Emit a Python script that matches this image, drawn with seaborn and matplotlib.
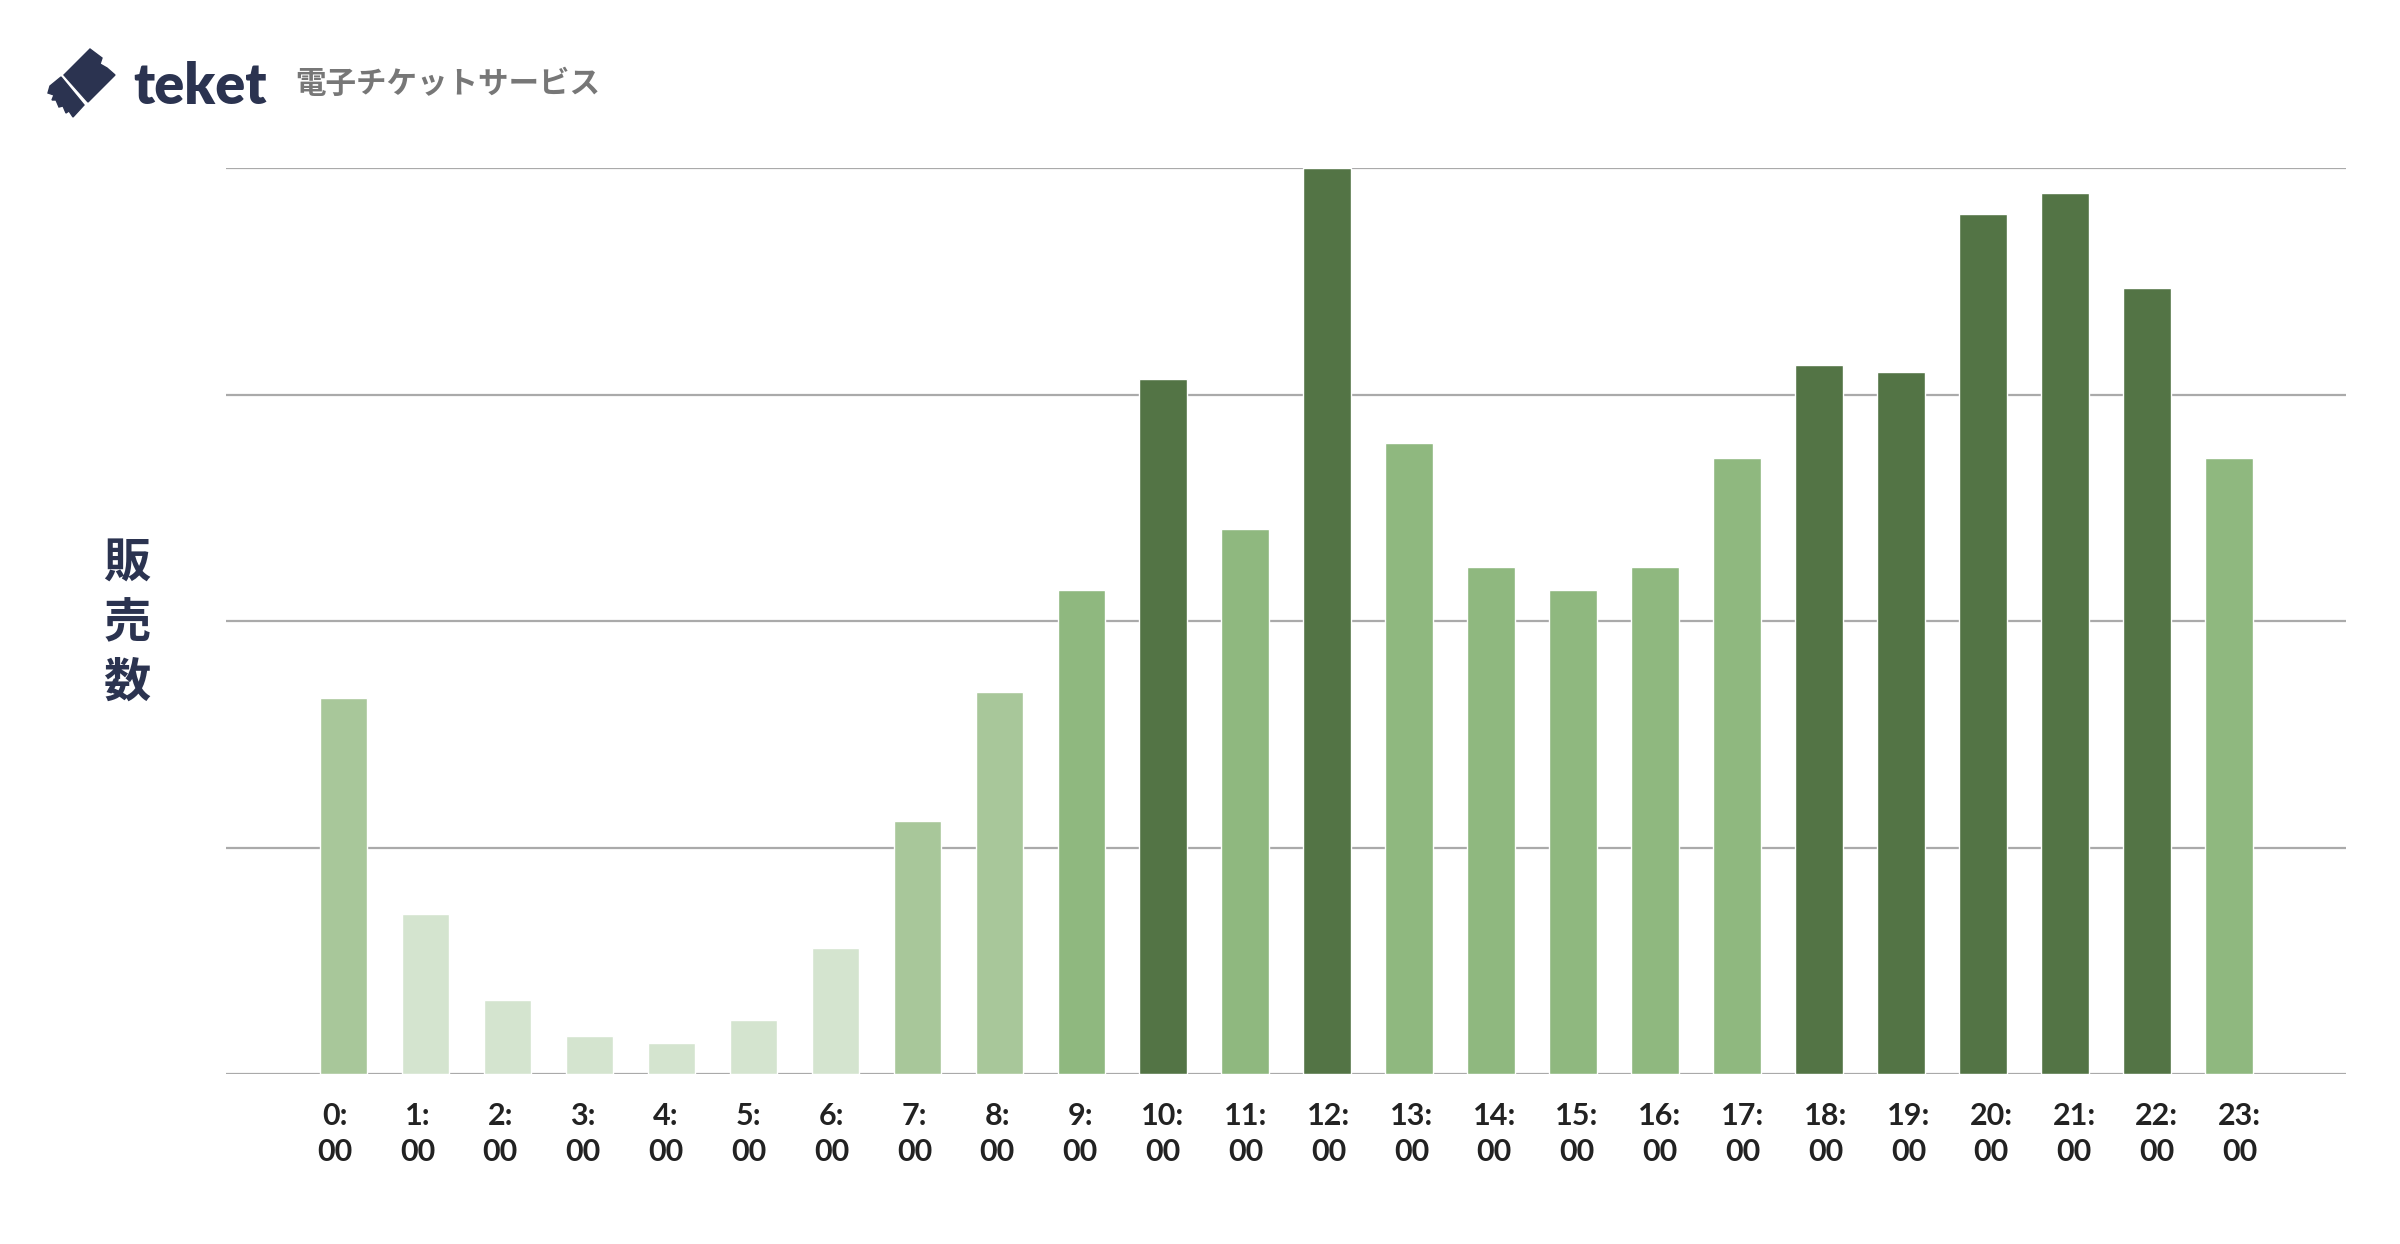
import matplotlib
matplotlib.use("Agg")
import matplotlib.pyplot as plt
import seaborn as sns
from matplotlib.patches import Polygon

# data (relative sales per hour, max = 400)
hours = [f"{h}:\n00" for h in range(24)]
sales = [166, 71, 33, 17, 14, 24, 56, 112, 169, 214, 307, 241,
         400, 279, 224, 214, 224, 272, 313, 310, 380, 389, 347, 272]
shade = [1, 0, 0, 0, 0, 0, 0, 1, 1, 2, 3, 2,
         3, 2, 2, 2, 2, 2, 3, 3, 3, 3, 3, 2]
shade_colors = ["#d4e4cf", "#a8c79a", "#8fb87f", "#537445"]
yticks = [0, 100, 200, 300, 400]

NAVY = "#2b3350"

sns.set_theme(style="white")
plt.rcParams["font.family"] = ["Lato", "Noto Sans CJK JP", "DejaVu Sans"]

fig = plt.figure(figsize=(24, 12.44), dpi=100)
ax = fig.add_axes([0.094, 0.1363, 0.8835, 0.7283])

bar_colors = [shade_colors[s] for s in shade]
sns.barplot(x=hours, y=sales, hue=hours, palette=bar_colors, legend=False,
            width=0.58, saturation=1, ax=ax, zorder=3)

ax.set_xlim(-1.44, 24.43)
ax.set_ylim(0, 400)
ax.set_yticks(yticks)
ax.set_yticklabels([])
ax.yaxis.grid(True, color="#aaaaaa", linewidth=1.6)
ax.set_axisbelow(True)
for s in ax.spines.values():
    s.set_visible(False)

# category labels sit on a slightly wider grid than the bars
ax.set_xticks([-0.11 + i * 1.0106 for i in range(len(hours))])
ax.set_xticklabels(hours)
ax.tick_params(axis="x", length=0, pad=20)
ax.tick_params(axis="y", length=0)
for lab in ax.get_xticklabels():
    lab.set_fontsize(22)
    lab.set_fontweight("bold")
    lab.set_color("#222222")
    lab.set_linespacing(1.35)
ax.set_xlabel("")
ax.set_ylabel("")

# y label, stacked characters
fig.text(127 / 2400, 1 - 623 / 1244, "販\n売\n数", ha="center", va="center",
         fontsize=34, fontweight="bold", color=NAVY, linespacing=1.3,
         family=["Noto Sans CJK JP", "DejaVu Sans"])

# header: logo + service name
logo = fig.add_axes([0, 0, 1, 1], zorder=-1)
logo.set_xlim(0, 2400)
logo.set_ylim(1244, 0)
logo.axis("off")
logo.add_patch(Polygon([(64, 75), (90, 49), (102, 58), (100, 64), (107, 68),
                        (115, 75), (88, 102)], closed=True, color=NAVY))
logo.add_patch(Polygon([(50, 86), (61, 77), (84, 105), (73, 117), (69, 111),
                        (66, 113), (63, 106), (59, 107), (56, 100), (52, 100),
                        (54, 95), (48, 93)], closed=True, color=NAVY))

fig.text(133 / 2400, 1 - 104 / 1244, "teket", ha="left", va="baseline",
         fontsize=40, fontweight="heavy", color=NAVY)
fig.text(295 / 2400, 1 - 84 / 1244, "電子チケットサービス", ha="left", va="center",
         fontsize=22, fontweight="bold", color="#777777",
         family=["Noto Sans CJK JP", "DejaVu Sans"])

fig.savefig("out.png", dpi=100, facecolor="white")
